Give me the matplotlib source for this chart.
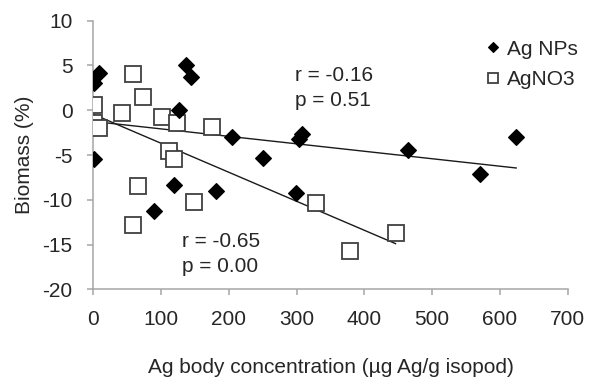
import numpy as np
import matplotlib.pyplot as plt

plt.rcParams['font.family'] = ['Liberation Sans', 'DejaVu Sans']
plt.rcParams['axes.unicode_minus'] = False

# Ag NPs (filled diamonds)
np_conc = [0.5, 8.8, 0.5, 90, 119.5, 126, 137, 144, 181, 205, 250, 299, 304, 308, 464, 571, 624]
np_biomass = [3.05, 4.2, -5.4, -11.3, -8.4, 0.0, 5.0, 3.7, -9.0, -3.0, -5.3, -9.2, -3.2, -2.7, -4.4, -7.1, -3.0]

# AgNO3 (open squares)
no3_conc = [0.5, 1.5, 8.8, 42, 58.5, 74, 101, 123, 112, 119.5, 66, 58.5, 149, 175, 329, 379, 446]
no3_biomass = [0.56, -1.4, -1.97, -0.26, 4.0, 1.5, -0.74, -1.4, -4.5, -5.5, -8.5, -12.8, -10.2, -1.86, -10.4, -15.7, -13.7]

# linear trend lines (end points)
np_trend_x = [0, 624]
np_trend_y = [-1.25, -6.45]
no3_trend_x = [0, 446]
no3_trend_y = [-0.45, -14.9]

xticks = [0, 100, 200, 300, 400, 500, 600, 700]
yticks = [-20, -15, -10, -5, 0, 5, 10]

txt = '#262626'
axis_grey = '#a6a6a6'
fs = 15

fig = plt.figure(figsize=(5.95, 3.77), dpi=100)
ax = fig.add_axes([0.1568, 0.2326, 0.7973, 0.7125])

ax.plot(np_trend_x, np_trend_y, color='#1a1a1a', lw=1.0, zorder=2)
ax.plot(no3_trend_x, no3_trend_y, color='#1a1a1a', lw=1.0, zorder=2)

ax.plot(no3_conc, no3_biomass, linestyle='none', marker='s', markersize=11,
        markerfacecolor='white', markeredgecolor='#404040', markeredgewidth=1.3,
        label='AgNO3', zorder=3)
ax.plot(np_conc, np_biomass, linestyle='none', marker='D', markersize=8.3,
        markerfacecolor='black', markeredgecolor='black', markeredgewidth=0.8,
        label='Ag NPs', zorder=4)

ax.set_xlim(0, 700)
ax.set_ylim(-20, 10)
ax.set_xticks(xticks)
ax.set_yticks(yticks)

for side in ['top', 'right']:
    ax.spines[side].set_visible(False)
for side in ['left', 'bottom']:
    ax.spines[side].set_color(axis_grey)
    ax.spines[side].set_linewidth(1.1)
ax.tick_params(axis='both', direction='out', length=4, width=1.1, color=axis_grey,
               labelsize=fs, labelcolor=txt, pad=11)

ax.set_xlabel('Ag body concentration (µg Ag/g isopod)', fontsize=fs, color=txt)
ax.set_ylabel('Biomass (%)', fontsize=fs, color=txt)
ax.xaxis.set_label_coords(0.5, -0.255)
ax.yaxis.set_label_coords(-0.125, 0.5)

ax.text(297.6, 3.93, 'r = -0.16', fontsize=fs, color=txt, ha='left', va='center')
ax.text(297.6, 1.14, 'p = 0.51', fontsize=fs, color=txt, ha='left', va='center')
ax.text(130.4, -14.69, 'r = -0.65', fontsize=fs, color=txt, ha='left', va='center')
ax.text(130.4, -17.4, 'p = 0.00', fontsize=fs, color=txt, ha='left', va='center')

handles, labels = ax.get_legend_handles_labels()
leg = ax.legend(handles[::-1], labels[::-1], loc='upper left',
                bbox_to_anchor=(0.818, 0.895), bbox_transform=fig.transFigure,
                frameon=False, fontsize=fs, markerscale=0.6, handlelength=0.6,
                handletextpad=0.35, labelspacing=0.55, borderpad=0, borderaxespad=0)
for t in leg.get_texts():
    t.set_color(txt)

fig.savefig('out.png', dpi=100)
